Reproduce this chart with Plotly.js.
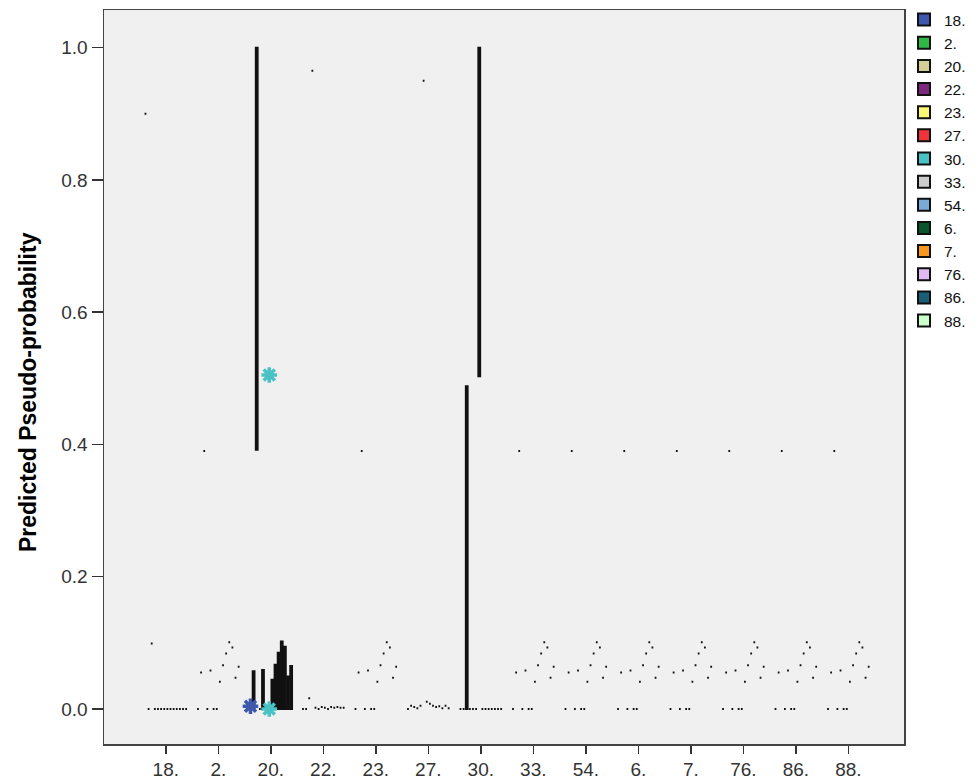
<!DOCTYPE html>
<html>
<head>
<meta charset="utf-8">
<script src="https://cdn.plot.ly/plotly-3.0.1.min.js"></script>
<style>
  html, body { margin: 0; padding: 0; background: #ffffff; }
  #chart { width: 976px; height: 781px; }
</style>
</head>
<body>
<div id="chart"></div>
<script>
// Observed categories (x axis) and predicted categories (clusters / legend) share the same labels
const categories = ['18.', '2.', '20.', '22.', '23.', '27.', '30.', '33.', '54.', '6.', '7.', '76.', '86.', '88.'];
const clusterColors = ['#3E58AC', '#2EB848', '#D3CE97', '#7C287D', '#FBF873', '#EF3338', '#48C2C5',
                       '#CCCCCC', '#7AAAD5', '#0A562C', '#F8981D', '#DDBAF1', '#1A5F76', '#CCFFCC'];

// Predicted pseudo-probability per predicted cluster (order = categories), one array per observed group.
// Groups drawn as boxes have a low and a high array; single-value groups use one array for both.
const p18     = [0.900, 0.000, 0.099, 0.000, 0.000, 0.000, 0.000, 0.000, 0.000, 0.000, 0.000, 0.000, 0.000, 0.000];
const p2      = [0.000, 0.055, 0.390, 0.000, 0.058, 0.000, 0.000, 0.041, 0.066, 0.084, 0.101, 0.093, 0.047, 0.064];
const p20Low  = [0.000, 0.000, 0.392, 0.000, 0.000, 0.000, 0.000, 0.000, 0.000, 0.000, 0.000, 0.000, 0.000, 0.000];
const p20High = [0.000, 0.057, 1.000, 0.000, 0.059, 0.000, 0.000, 0.044, 0.067, 0.085, 0.102, 0.094, 0.049, 0.065];
const p22     = [0.000, 0.000, 0.016, 0.965, 0.002, 0.000, 0.003, 0.002, 0.000, 0.003, 0.002, 0.003, 0.002, 0.002];
const p23     = [0.000, 0.055, 0.390, 0.000, 0.058, 0.000, 0.000, 0.041, 0.066, 0.084, 0.101, 0.093, 0.047, 0.064];
const p27     = [0.000, 0.005, 0.003, 0.001, 0.005, 0.950, 0.011, 0.008, 0.005, 0.003, 0.004, 0.001, 0.005, 0.001];
const p30Low  = [0.000, 0.000, 0.000, 0.000, 0.000, 0.000, 0.503, 0.000, 0.000, 0.000, 0.000, 0.000, 0.000, 0.000];
const p30High = [0.000, 0.000, 0.488, 0.000, 0.000, 0.000, 1.000, 0.000, 0.000, 0.000, 0.000, 0.000, 0.000, 0.000];
const p33     = [0.000, 0.055, 0.390, 0.000, 0.058, 0.000, 0.000, 0.041, 0.066, 0.084, 0.101, 0.093, 0.047, 0.064];
const p54     = [0.000, 0.055, 0.390, 0.000, 0.058, 0.000, 0.000, 0.041, 0.066, 0.084, 0.101, 0.093, 0.047, 0.064];
const p6      = [0.000, 0.055, 0.390, 0.000, 0.058, 0.000, 0.000, 0.041, 0.066, 0.084, 0.101, 0.093, 0.047, 0.064];
const p7      = [0.000, 0.055, 0.390, 0.000, 0.058, 0.000, 0.000, 0.041, 0.066, 0.084, 0.101, 0.093, 0.047, 0.064];
const p76     = [0.000, 0.055, 0.390, 0.000, 0.058, 0.000, 0.000, 0.041, 0.066, 0.084, 0.101, 0.093, 0.047, 0.064];
const p86     = [0.000, 0.055, 0.390, 0.000, 0.058, 0.000, 0.000, 0.041, 0.066, 0.084, 0.101, 0.093, 0.047, 0.064];
const p88     = [0.000, 0.055, 0.390, 0.000, 0.058, 0.000, 0.000, 0.041, 0.066, 0.084, 0.101, 0.093, 0.047, 0.064];

// Extreme values (stars)
const outlierGroup   = ['20.', '20.', '20.'];
const outlierCluster = ['18.', '30.', '30.'];
const outlierValue   = [0.004, 0.505, 0.000];

const yTicks = [0.0, 0.2, 0.4, 0.6, 0.8, 1.0];
const yTitle = 'Predicted Pseudo-probability';

// ---- build ----
const lowRows  = [p18, p2, p20Low,  p22, p23, p27, p30Low,  p33, p54, p6, p7, p76, p86, p88];
const highRows = [p18, p2, p20High, p22, p23, p27, p30High, p33, p54, p6, p7, p76, p86, p88];

const PITCH = 0.0596;   // cluster spacing inside a category (axis units)
const BOX_W = 0.034;
const nC = categories.length;
const offset = j => (j - (nC - 1) / 2) * PITCH;

const traces = [];
categories.forEach((cl, j) => {
  const lo = lowRows.map(r => r[j]);
  const hi = highRows.map(r => r[j]);
  traces.push({
    type: 'box',
    orientation: 'v',
    name: cl,
    x: categories.map((c, i) => i + offset(j)),
    lowerfence: lo,
    q1: lo,
    median: lo,
    q3: hi,
    upperfence: hi,
    width: BOX_W,
    whiskerwidth: 0,
    boxpoints: false,
    fillcolor: clusterColors[j],
    line: { color: '#111111', width: 2 },
    hoverinfo: 'y+name'
  });
});

const starX = outlierGroup.map((g, k) => categories.indexOf(g) + offset(categories.indexOf(outlierCluster[k])));
const starC = outlierCluster.map(c => clusterColors[categories.indexOf(c)]);
traces.push({
  type: 'scatter',
  mode: 'markers',
  x: starX,
  y: outlierValue,
  showlegend: false,
  hoverinfo: 'y',
  marker: { symbol: 'asterisk-open', size: 13, color: starC, line: { color: starC, width: 3.5 } }
});

const layout = {
  width: 976,
  height: 781,
  margin: { l: 104, r: 61, t: 10, b: 37 },
  paper_bgcolor: '#ffffff',
  plot_bgcolor: '#f0f0f0',
  boxmode: 'overlay',
  showlegend: true,
  font: { family: 'Liberation Sans, Arial, sans-serif', color: '#333333' },
  xaxis: {
    range: [-1.177, 14.06],
    tickmode: 'array',
    tickvals: categories.map((c, i) => i),
    ticktext: categories,
    ticks: 'outside',
    ticklen: 8,
    tickwidth: 1.5,
    tickcolor: '#333333',
    tickfont: { size: 19, color: '#333333' },
    showgrid: false,
    zeroline: false,
    showline: true,
    linecolor: '#444444',
    linewidth: 1.5,
    mirror: true
  },
  yaxis: {
    range: [-0.053, 1.057],
    tickmode: 'array',
    tickvals: yTicks,
    ticktext: yTicks.map(v => v.toFixed(1)),
    ticks: 'outside',
    ticklen: 11,
    tickwidth: 1.5,
    tickcolor: '#333333',
    tickfont: { size: 19, color: '#333333' },
    showgrid: false,
    zeroline: false,
    showline: true,
    linecolor: '#444444',
    linewidth: 1.5,
    mirror: true
  },
  annotations: [{
    text: yTitle,
    xref: 'paper', yref: 'paper',
    x: -(104 - 27) / 811, y: 1 - (392 - 10) / 734,
    xanchor: 'center', yanchor: 'middle',
    textangle: -90,
    showarrow: false,
    font: { size: 23, color: '#000000', family: 'Liberation Sans, Arial, sans-serif', weight: 'bold' }
  }],
  legend: {
    xref: 'container', yref: 'container',
    x: 904 / 976, xanchor: 'left',
    y: 1 - 3 / 781, yanchor: 'top',
    bgcolor: 'rgba(0,0,0,0)',
    font: { size: 15.5, color: '#111111' },
    tracegroupgap: 0
  }
};

Plotly.newPlot('chart', traces, layout, { displayModeBar: false, staticPlot: true });
</script>
</body>
</html>
